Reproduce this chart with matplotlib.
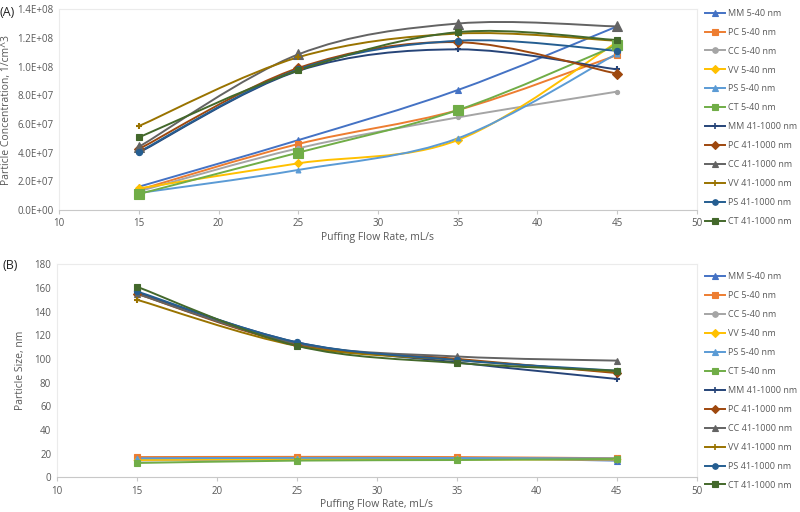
import matplotlib
matplotlib.use("Agg")
import matplotlib.pyplot as plt
from matplotlib.path import Path
from matplotlib.patches import PathPatch
from matplotlib.lines import Line2D
from matplotlib.ticker import FuncFormatter

plt.rcParams['font.family'] = ['Open Sans', 'DejaVu Sans']

flow = [15, 25, 35, 45]
names = ['MM 5-40 nm', 'PC 5-40 nm', 'CC 5-40 nm', 'VV 5-40 nm', 'PS 5-40 nm', 'CT 5-40 nm',
         'MM 41-1000 nm', 'PC 41-1000 nm', 'CC 41-1000 nm', 'VV 41-1000 nm', 'PS 41-1000 nm',
         'CT 41-1000 nm']

# (A) particle concentration, 1/cm^3
conc_mm_s = [1.62e7, 4.87e7, 8.36e7, 1.28e8]
conc_pc_s = [1.40e7, 4.60e7, 6.96e7, 1.08e8]
conc_cc_s = [1.30e7, 4.30e7, 6.45e7, 8.25e7]
conc_vv_s = [1.50e7, 3.25e7, 4.87e7, 1.17e8]
conc_ps_s = [1.18e7, 2.79e7, 4.99e7, 1.09e8]
conc_ct_s = [1.11e7, 4.00e7, 6.96e7, 1.15e8]
conc_mm_l = [4.00e7, 9.70e7, 1.12e8, 9.80e7]
conc_pc_l = [4.25e7, 9.90e7, 1.17e8, 9.50e7]
conc_cc_l = [4.40e7, 1.085e8, 1.30e8, 1.28e8]
conc_vv_l = [5.85e7, 1.065e8, 1.23e8, 1.18e8]
conc_ps_l = [4.05e7, 9.80e7, 1.18e8, 1.11e8]
conc_ct_l = [5.06e7, 9.73e7, 1.24e8, 1.185e8]

# (B) particle size, nm
size_mm_s = [16.5, 16.5, 16.0, 14.0]
size_pc_s = [17.0, 17.2, 17.0, 16.0]
size_cc_s = [14.0, 15.0, 15.5, 15.0]
size_vv_s = [14.5, 15.5, 15.0, 15.0]
size_ps_s = [16.0, 16.3, 16.2, 15.8]
size_ct_s = [12.0, 14.0, 14.5, 15.5]
size_mm_l = [156, 114, 97, 83]
size_pc_l = [155, 112, 100, 88]
size_cc_l = [155, 113, 102, 98.5]
size_vv_l = [150, 111, 99, 89]
size_ps_l = [157, 114, 99, 90]
size_ct_l = [161, 111, 96.5, 90]

conc = [conc_mm_s, conc_pc_s, conc_cc_s, conc_vv_s, conc_ps_s, conc_ct_s,
        conc_mm_l, conc_pc_l, conc_cc_l, conc_vv_l, conc_ps_l, conc_ct_l]
size = [size_mm_s, size_pc_s, size_cc_s, size_vv_s, size_ps_s, size_ct_s,
        size_mm_l, size_pc_l, size_cc_l, size_vv_l, size_ps_l, size_ct_l]

colors = ['#4472C4', '#ED7D31', '#A5A5A5', '#FFC000', '#5B9BD5', '#70AD47',
          '#264478', '#9E480E', '#636363', '#997300', '#255E91', '#43682B']
markers = ['^', 's', 'o', 'D', '^', 's', '+', 'D', '^', '+', 'o', 's']
msize_a = [4, 4.5, 3, 4.5, 3.5, 7, 4, 5, 6.5, 4, 4.5, 5]
msize_b = [4, 4.5, 3, 3.5, 3.5, 5, 4, 4.5, 4, 4, 4.5, 5]

grey = '#595959'


def smooth_path(xs, ys):
    # Excel-style smoothed line drawn as cubic Bezier segments through the points
    pts = list(zip(xs, ys))
    verts = [pts[0]]
    codes = [Path.MOVETO]
    n = len(pts)
    for i in range(n - 1):
        p0 = pts[i - 1] if i > 0 else pts[i]
        p1 = pts[i]
        p2 = pts[i + 1]
        p3 = pts[i + 2] if i + 2 < n else pts[i + 1]
        c1 = (p1[0] + (p2[0] - p0[0]) / 6, p1[1] + (p2[1] - p0[1]) / 6)
        c2 = (p2[0] - (p3[0] - p1[0]) / 6, p2[1] - (p3[1] - p1[1]) / 6)
        verts += [c1, c2, p2]
        codes += [Path.CURVE4] * 3
    return Path(verts, codes)


def draw_panel(ax, data, msizes):
    for vals, c, m, ms in zip(data, colors, markers, msizes):
        ax.add_patch(PathPatch(smooth_path(flow, vals), fill=False,
                               edgecolor=c, lw=1.4, zorder=2))
        ax.plot(flow, vals, ls='none', marker=m, ms=ms, color=c,
                mew=1.5 if m == '+' else 0.8, zorder=3)
    ax.set_xlim(10, 50)
    ax.set_xticks(range(10, 51, 5))
    for s in ['top', 'right', 'left']:
        ax.spines[s].set_color('#EBEBEB')
    ax.spines['bottom'].set_color('#C8C8C8')
    ax.tick_params(axis='y', length=0, labelsize=7, colors=grey, pad=4)
    ax.tick_params(axis='x', length=3, color='#C8C8C8', labelsize=7,
                   colors=grey, pad=3)
    ax.set_xlabel('Puffing Flow Rate, mL/s', fontsize=7.5, color=grey, labelpad=2)


fig = plt.figure(figsize=(8, 5.12), dpi=100)
ax1 = fig.add_axes([0.074, 0.590, 0.797, 0.392])
ax2 = fig.add_axes([0.071, 0.068, 0.800, 0.416])

draw_panel(ax1, conc, msize_a)
ax1.set_ylim(0, 1.4e8)
ax1.set_yticks([i * 2e7 for i in range(8)])
ax1.yaxis.set_major_formatter(FuncFormatter(lambda v, p: f"{v:.1E}"))
ax1.set_ylabel('Particle Concentration, 1/cm^3', fontsize=7.5, color=grey, labelpad=4)

draw_panel(ax2, size, msize_b)
ax2.set_ylim(0, 180)
ax2.set_yticks(range(0, 181, 20))
ax2.set_ylabel('Particle Size, nm', fontsize=7.5, color=grey, labelpad=6)

fig.text(0.0, 0.975, '(A)', fontsize=9, color='#222222', va='center')
fig.text(0.003, 0.482, '(B)', fontsize=9, color='#222222', va='center')

handles = [Line2D([0], [0], color=c, lw=1.4, marker=m, ms=4, mew=1.2 if m == '+' else 0.8)
           for c, m in zip(colors, markers)]
for ax, top in [(ax1, 0.99), (ax2, 0.475)]:
    fig.legend(handles, names, loc='upper left', bbox_to_anchor=(0.877, top),
               frameon=False, fontsize=6.5, labelcolor=grey, handlelength=2.2,
               handletextpad=0.3, labelspacing=1.1, borderaxespad=0)

fig.savefig('out.png', dpi=100)
